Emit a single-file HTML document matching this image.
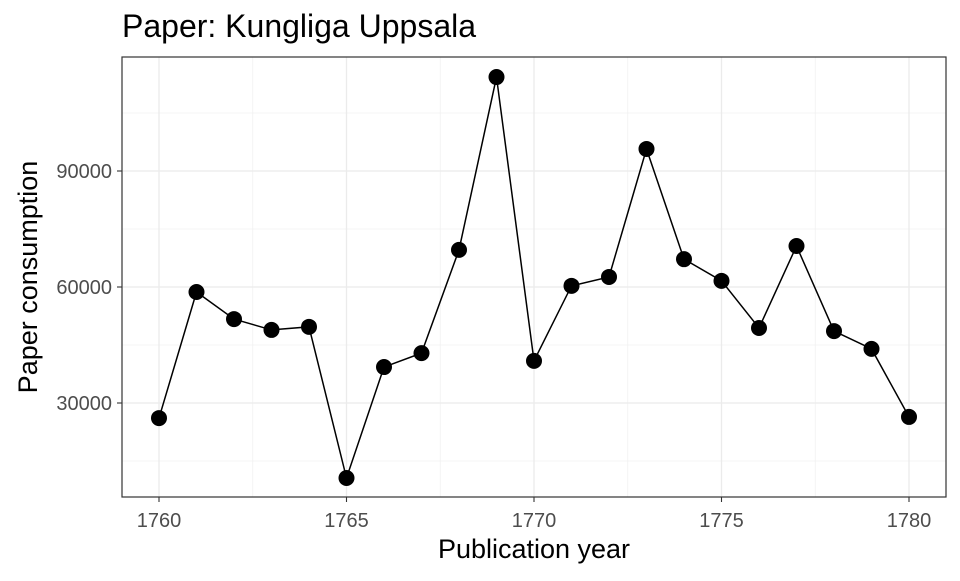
<!DOCTYPE html>
<html><head><meta charset="utf-8"><style>
body{margin:0;background:#fff;font-family:"Liberation Sans",sans-serif;}
</style></head><body>
<svg id="chart" width="960" height="576" xmlns="http://www.w3.org/2000/svg">
<rect width="960" height="576" fill="#fff"/>
<text x="122" y="37" font-size="32" fill="#000">Paper: Kungliga Uppsala</text>
<g id="grid"></g>
<g id="marks"></g>
<rect x="122" y="57" width="824" height="440" fill="none" stroke="#333" stroke-width="1.2"/>
<g id="axes"></g>
<text x="534" y="558" font-size="27" text-anchor="middle">Publication year</text>
<text transform="translate(37,277) rotate(-90)" font-size="27" text-anchor="middle">Paper consumption</text>
</svg>
<script>
const years=[1760,1761,1762,1763,1764,1765,1766,1767,1768,1769,1770,1771,1772,1773,1774,1775,1776,1777,1778,1779,1780];
const values=[26100,58700,51700,48900,49700,10600,39300,42900,69600,114300,40900,60300,62600,95700,67200,61600,49400,70600,48600,44000,26400];
const xTicks=[1760,1765,1770,1775,1780];
const yTicks=[30000,60000,90000];
const ns="http://www.w3.org/2000/svg";
const x=v=>159+(v-1760)*37.5;
const y=v=>519-v*116/30000;
function mk(p,t,a){const e=document.createElementNS(ns,t);for(const k in a)e.setAttribute(k,a[k]);p.appendChild(e);return e;}
const grid=document.getElementById('grid'),marks=document.getElementById('marks'),axes=document.getElementById('axes');
[1762.5,1767.5,1772.5,1777.5].forEach(v=>{const l=mk(grid,'line',{x1:x(v),x2:x(v),y1:57,y2:497,stroke:'#f0f0f0','stroke-width':0.8});

});
[15000,45000,75000,105000].forEach(v=>{const l=mk(grid,'line',{x1:122,x2:946,y1:y(v),y2:y(v),stroke:'#f0f0f0','stroke-width':0.8});

});
xTicks.forEach(v=>{const l=mk(grid,'line',{x1:x(v),x2:x(v),y1:57,y2:497,stroke:'#ebebeb','stroke-width':1.3});


mk(axes,'line',{x1:x(v),x2:x(v),y1:497,y2:502,stroke:'#333','stroke-width':1.1});
const t=mk(axes,'text',{x:x(v),y:527,'font-size':20,'text-anchor':'middle',fill:'#4d4d4d'});t.textContent=v;

});
yTicks.forEach(v=>{const l=mk(grid,'line',{x1:122,x2:946,y1:y(v),y2:y(v),stroke:'#ebebeb','stroke-width':1.3});


mk(axes,'line',{x1:117,x2:122,y1:y(v),y2:y(v),stroke:'#333','stroke-width':1.1});
const t=mk(axes,'text',{x:112,y:y(v)+7,'font-size':20,'text-anchor':'end',fill:'#4d4d4d'});t.textContent=v;

});
const pl=mk(marks,'polyline',{points:years.map((yr,i)=>x(yr)+','+y(values[i])).join(' '),fill:'none',stroke:'#000','stroke-width':1.5});


years.forEach((yr,i)=>{const c=mk(marks,'circle',{cx:x(yr),cy:y(values[i]),r:8,fill:'#000'});

});
</script>
</body></html>
